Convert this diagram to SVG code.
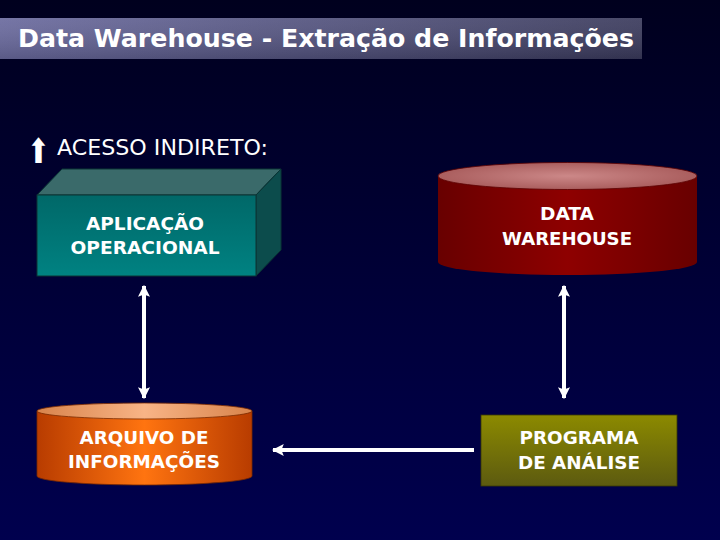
<svg xmlns="http://www.w3.org/2000/svg" width="720" height="540" viewBox="0 0 720 540">
<defs>
  <linearGradient id="bg" x1="0" y1="0" x2="0" y2="1">
    <stop offset="0" stop-color="#00001e"/>
    <stop offset="1" stop-color="#00004e"/>
  </linearGradient>
  <linearGradient id="titleH" x1="0" y1="0" x2="1" y2="0">
    <stop offset="0" stop-color="#6a6a9e"/>
    <stop offset="1" stop-color="#3a3a5c"/>
  </linearGradient>
  <linearGradient id="titleV" x1="0" y1="0" x2="0" y2="1">
    <stop offset="0" stop-color="#ffffff" stop-opacity="0.08"/>
    <stop offset="1" stop-color="#000000" stop-opacity="0.15"/>
  </linearGradient>
  <linearGradient id="tealFront" x1="0" y1="0" x2="0" y2="1">
    <stop offset="0" stop-color="#006868"/>
    <stop offset="1" stop-color="#008282"/>
  </linearGradient>
  <linearGradient id="redBody" x1="0" y1="0" x2="1" y2="0">
    <stop offset="0" stop-color="#680000"/>
    <stop offset="0.5" stop-color="#8e0000"/>
    <stop offset="1" stop-color="#680000"/>
  </linearGradient>
  <radialGradient id="redTop" cx="0.5" cy="0.5" r="0.5">
    <stop offset="0" stop-color="#cc8888"/>
    <stop offset="1" stop-color="#aa5e5e"/>
  </radialGradient>
  <linearGradient id="orangeBody" x1="0" y1="0" x2="1" y2="0">
    <stop offset="0" stop-color="#b83c00"/>
    <stop offset="0.5" stop-color="#ff7410"/>
    <stop offset="1" stop-color="#b83c00"/>
  </linearGradient>
  <linearGradient id="orangeTop" x1="0" y1="0" x2="1" y2="0">
    <stop offset="0" stop-color="#d8844c"/>
    <stop offset="0.5" stop-color="#f8b486"/>
    <stop offset="1" stop-color="#d8844c"/>
  </linearGradient>
  <linearGradient id="olive" x1="0" y1="0" x2="0" y2="1">
    <stop offset="0" stop-color="#8c8a00"/>
    <stop offset="1" stop-color="#5c5a10"/>
  </linearGradient>
  <marker id="ah" viewBox="0 0 10 10" refX="9" refY="5" markerWidth="3" markerHeight="3" orient="auto-start-reverse" markerUnits="strokeWidth">
    <path d="M0,0 L10,5 L0,10 L2,5 Z" fill="#ffffff"/>
  </marker>
</defs>
<style>
  .lbl { font-family: "DejaVu Sans", Verdana, sans-serif; font-weight: bold; font-size: 17px; fill: #ffffff; text-anchor: middle; }
  .conn { stroke: #ffffff; stroke-width: 4; fill: none; }
</style>
<rect x="0" y="0" width="720" height="540" fill="url(#bg)"/>

<g id="title">
  <rect x="0" y="18" width="642" height="41" fill="url(#titleH)"/>
  <rect x="0" y="18" width="642" height="41" fill="url(#titleV)"/>
  <text x="18" y="47" font-family="DejaVu Sans, Verdana, sans-serif" font-weight="bold" font-size="24" fill="#ffffff" textLength="616" lengthAdjust="spacingAndGlyphs">Data  Warehouse - Extração de Informações</text>
</g>

<g id="subtitle">
  <text x="27" y="163" font-family="DejaVu Sans, sans-serif" font-size="34" fill="#ffffff" textLength="23" lengthAdjust="spacingAndGlyphs">⬆</text>
  <text x="57" y="155" font-family="DejaVu Sans, Verdana, sans-serif" font-size="21" fill="#ffffff" textLength="211" lengthAdjust="spacingAndGlyphs">ACESSO INDIRETO:</text>
</g>

<g id="aplicacao">
  <polygon points="37,195 62,169 281,169 256,195" fill="#3a6a6a" stroke="#0a3434" stroke-width="1"/>
  <polygon points="256,195 281,169 281,250 256,276" fill="#0c4c4c" stroke="#0a3434" stroke-width="1"/>
  <rect x="37" y="195" width="219" height="81" fill="url(#tealFront)" stroke="#0a3434" stroke-width="1"/>
  <text class="lbl" x="145" y="230" textLength="118" lengthAdjust="spacingAndGlyphs">APLICAÇÃO</text>
  <text class="lbl" x="145" y="254" textLength="149" lengthAdjust="spacingAndGlyphs">OPERACIONAL</text>
</g>

<g id="datawarehouse">
  <path d="M438,176 L438,262 A129,13 0 0 0 697,262 L697,176 Z" fill="url(#redBody)"/>
  <ellipse cx="567.5" cy="176" rx="129.5" ry="13.5" fill="url(#redTop)" stroke="#5a0000" stroke-width="0.8"/>
  <text class="lbl" x="567" y="220" textLength="54" lengthAdjust="spacingAndGlyphs">DATA</text>
  <text class="lbl" x="567" y="245" textLength="130" lengthAdjust="spacingAndGlyphs">WAREHOUSE</text>
</g>

<g id="arquivo">
  <path d="M37,411 L37,476 A107.5,9 0 0 0 252,476 L252,411 Z" fill="url(#orangeBody)" stroke="#7a2a00" stroke-width="0.8"/>
  <ellipse cx="144.5" cy="411" rx="107.5" ry="8" fill="url(#orangeTop)" stroke="#7a2a00" stroke-width="0.8"/>
  <text class="lbl" x="144" y="444" textLength="129" lengthAdjust="spacingAndGlyphs">ARQUIVO DE</text>
  <text class="lbl" x="144" y="468" textLength="152" lengthAdjust="spacingAndGlyphs">INFORMAÇÕES</text>
</g>

<g id="programa">
  <rect x="481" y="415" width="196" height="71" fill="url(#olive)" stroke="#3a3a00" stroke-width="0.8"/>
  <text class="lbl" x="579" y="444" textLength="119" lengthAdjust="spacingAndGlyphs">PROGRAMA</text>
  <text class="lbl" x="579" y="469" textLength="122" lengthAdjust="spacingAndGlyphs">DE ANÁLISE</text>
</g>

<g id="connectors">
  <line class="conn" x1="144" y1="286" x2="144" y2="398" marker-start="url(#ah)" marker-end="url(#ah)"/>
  <line class="conn" x1="564" y1="286" x2="564" y2="398" marker-start="url(#ah)" marker-end="url(#ah)"/>
  <line class="conn" x1="474" y1="450" x2="273" y2="450" marker-end="url(#ah)"/>
</g>
</svg>
